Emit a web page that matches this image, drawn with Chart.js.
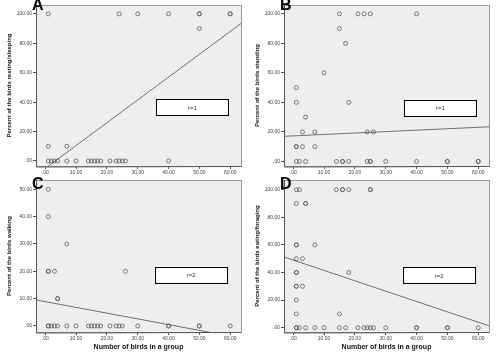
<!DOCTYPE html>
<html>
<head>
<meta charset="utf-8">
<script src="https://cdn.jsdelivr.net/npm/chart.js@4/dist/chart.umd.min.js"></script>
<style>
  body { margin: 0; background: #fff; width: 496px; height: 358px; position: relative; overflow: hidden; font-family: "Liberation Sans", Arial, sans-serif; }
  .panel { position: absolute; }
  .letter { position: absolute; font-weight: bold; font-size: 16px; color: #000; line-height: 1; }
</style>
</head>
<body>
<div class="panel" style="left:0;top:0;width:248px;height:179px"><canvas id="cA"></canvas></div>
<div class="panel" style="left:248px;top:0;width:248px;height:179px"><canvas id="cB"></canvas></div>
<div class="panel" style="left:0;top:175px;width:248px;height:183px"><canvas id="cC"></canvas></div>
<div class="panel" style="left:248px;top:175px;width:248px;height:183px"><canvas id="cD"></canvas></div>
<div class="letter" style="left:32px;top:-3px">A</div>
<div class="letter" style="left:280px;top:-3px">B</div>
<div class="letter" style="left:32px;top:176px">C</div>
<div class="letter" style="left:280px;top:176px">D</div>
<script>
// tick values
const xTicks = [0, 10, 20, 30, 40, 50, 60];
const pctTicks = [0, 20, 40, 60, 80, 100];
const walkTicks = [0, 10, 20, 30, 40, 50];

// [group size, percent] (repeats = overlapping points)
const resting = [[1,100],[24,100],[30,100],[40,100],[50,100],[50,100],[60,100],[60,100],[50,90],
  [1,10],[7,10],
  [1,0],[2,0],[3,0],[4,0],[7,0],[10,0],[14,0],[15,0],[16,0],[17,0],[18,0],[21,0],[23,0],[24,0],[25,0],[26,0],[40,0]];
const standing = [[15,100],[21,100],[23,100],[25,100],[40,100],[15,90],[17,80],[10,60],[1,50],[1,40],[18,40],[4,30],
  [3,20],[7,20],[24,20],[26,20],[1,10],[1,10],[3,10],[7,10],
  [1,0],[2,0],[4,0],[14,0],[16,0],[16,0],[18,0],[24,0],[25,0],[25,0],[30,0],[40,0],[50,0],[50,0],[60,0],[60,0]];
const walking = [[1,50],[1,40],[7,30],[1,20],[1,20],[3,20],[26,20],[4,10],[4,10],
  [1,0],[1,0],[2,0],[3,0],[4,0],[7,0],[10,0],[14,0],[15,0],[16,0],[17,0],[18,0],[21,0],[23,0],[24,0],[25,0],[30,0],[40,0],[40,0],[50,0],[50,0],[60,0]];
const foraging = [[1,100],[2,100],[14,100],[16,100],[16,100],[18,100],[25,100],[25,100],[1,90],[4,90],[4,90],
  [1,60],[1,60],[7,60],[1,50],[3,50],[1,40],[1,40],[18,40],[1,30],[1,30],[3,30],[1,20],[1,10],[15,10],
  [1,0],[1,0],[2,0],[4,0],[7,0],[10,0],[15,0],[17,0],[21,0],[23,0],[24,0],[25,0],[26,0],[30,0],[40,0],[40,0],[50,0],[50,0],[60,0]];

// fitted lines [intercept, slope]
const restingFit = [-5, 1.55];
const standingFit = [17.3, 0.097];
const walkingFit = [8.9, -0.21];
const foragingFit = [49, -0.75];

const fmt = v => v === 0 ? '.00' : v.toFixed(2);

const boxPlugin = {
  id: 'rbox',
  afterDatasetsDraw(chart, args, opts) {
    const { ctx, scales: { x, y } } = chart;
    const x0 = x.getPixelForValue(opts.x0), x1 = x.getPixelForValue(opts.x1);
    const y0 = y.getPixelForValue(opts.y0), y1 = y.getPixelForValue(opts.y1);
    ctx.save();
    ctx.fillStyle = '#fff';
    ctx.strokeStyle = '#000';
    ctx.lineWidth = 1;
    ctx.fillRect(x0, y0, x1 - x0, y1 - y0);
    ctx.strokeRect(Math.round(x0) + 0.5, Math.round(y0) + 0.5, Math.round(x1 - x0), Math.round(y1 - y0));
    ctx.fillStyle = '#333';
    ctx.font = '6px "Liberation Sans", Arial';
    ctx.textAlign = 'center';
    ctx.textBaseline = 'middle';
    ctx.fillText(opts.text, (x0 + x1) / 2, (y0 + y1) / 2 + 1);
    ctx.restore();
  }
};

const bgPlugin = {
  id: 'plotbg',
  beforeDraw(chart) {
    const { ctx, chartArea: a } = chart;
    ctx.save();
    ctx.fillStyle = '#eeeeee';
    ctx.fillRect(a.left, a.top, a.right - a.left, a.bottom - a.top);
    ctx.restore();
  },
  afterDraw(chart) {
    const { ctx, chartArea: a } = chart;
    ctx.save();
    ctx.strokeStyle = '#9a9a9a';
    ctx.lineWidth = 1;
    ctx.strokeRect(Math.round(a.left) + 0.5, Math.round(a.top) + 0.5, Math.round(a.right - a.left), Math.round(a.bottom - a.top));
    ctx.strokeStyle = '#555';
    ctx.beginPath();
    ctx.moveTo(Math.round(a.left) + 0.5, a.top);
    ctx.lineTo(Math.round(a.left) + 0.5, a.bottom + 1);
    ctx.lineTo(a.right, Math.round(a.bottom) + 0.5);
    ctx.stroke();
    ctx.restore();
  }
};

function makePanel(id, pts, fit, yTicks, yRange, yTitle, xTitle, box) {
  const xMin = -3, xMax = 63.5;
  new Chart(document.getElementById(id), {
    type: 'scatter',
    data: {
      datasets: [{
        data: pts.map(p => ({ x: p[0], y: p[1] })),
        pointStyle: 'circle',
        pointRadius: 2,
        pointBorderWidth: 0.8,
        pointBorderColor: '#5a5a5a',
        pointBackgroundColor: 'rgba(0,0,0,0)'
      }, {
        type: 'line',
        data: [xMin - 5, xMax + 5].map(v => ({ x: v, y: fit[0] + fit[1] * v })),
        borderColor: '#6e6e6e',
        borderWidth: 1,
        pointRadius: 0,
        fill: false
      }]
    },
    options: {
      responsive: true,
      maintainAspectRatio: false,
      animation: false,
      layout: { padding: { top: 5, right: 7, left: 0, bottom: xTitle ? 7 : 0 } },
      plugins: { legend: { display: false }, tooltip: { enabled: false }, rbox: box },
      scales: {
        x: {
          type: 'linear', min: xMin, max: xMax,
          afterBuildTicks: s => { s.ticks = xTicks.map(v => ({ value: v })); },
          afterFit: s => { s.height = xTitle ? 19 : 13; },
          grid: { drawOnChartArea: false, tickLength: 3, color: '#555' },
          border: { display: false },
          ticks: { callback: fmt, font: { size: 5, family: 'Liberation Sans' }, color: '#444', padding: 1, maxRotation: 0 },
          title: { display: !!xTitle, text: xTitle, font: { size: 7, weight: 'bold', family: 'Liberation Sans' }, color: '#111', padding: { top: 2, bottom: 0 } }
        },
        y: {
          type: 'linear', min: yRange[0], max: yRange[1],
          afterBuildTicks: s => { s.ticks = yTicks.map(v => ({ value: v })); },
          afterFit: s => { s.width = 36; },
          grid: { drawOnChartArea: false, tickLength: 3, color: '#555' },
          border: { display: false },
          ticks: { callback: fmt, font: { size: 5, family: 'Liberation Sans' }, color: '#444', padding: 1 },
          title: { display: true, text: yTitle, font: { size: 6, weight: 'bold', family: 'Liberation Sans' }, color: '#111', padding: { top: 6, bottom: 0 } }
        }
      }
    },
    plugins: [bgPlugin, boxPlugin]
  });
}

makePanel('cA', resting, restingFit, pctTicks, [-3.4, 106], 'Percent of the birds resting/sleeping', '',
  { x0: 36, x1: 59.5, y0: 41.8, y1: 31, text: 'r=1' });
makePanel('cB', standing, standingFit, pctTicks, [-3.1, 106], 'Percent of the birds standing', '',
  { x0: 36, x1: 59.5, y0: 41.8, y1: 31, text: 'r=1' });
makePanel('cC', walking, walkingFit, walkTicks, [-2.2, 53.4], 'Percent of the birds walking', 'Number of birds in a group',
  { x0: 35.7, x1: 59, y0: 21.7, y1: 16, text: 'r=2' });
makePanel('cD', foraging, foragingFit, pctTicks, [-3.1, 107], 'Percent of the birds eating/foraging', 'Number of birds in a group',
  { x0: 35.7, x1: 59, y0: 44, y1: 32.6, text: 'r=2' });
</script>
</body>
</html>
